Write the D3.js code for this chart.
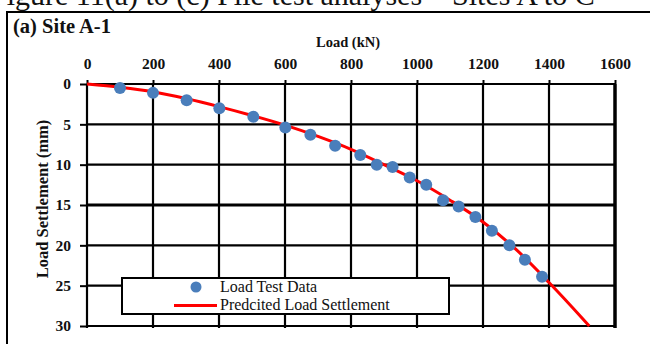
<!DOCTYPE html>
<html>
<head>
<meta charset="utf-8">
<script src="https://cdn.jsdelivr.net/npm/d3@7"></script>
<style>
  body { margin: 0; background: #fff; }
  svg text { font-family: "Liberation Serif", "Times New Roman", serif; fill: #111; }
  .axis path { display: none; }
  .axis line { stroke: #000; stroke-width: 2; }
  .axis text { font-size: 15.5px; font-weight: bold; }
</style>
</head>
<body>
<svg id="chart" width="650" height="344"></svg>
<script>
/* global d3 */

// load test readings (kN, mm)
const testLoad = [100, 200, 302, 401, 504, 601, 677, 752, 828, 878, 926, 978, 1028, 1079, 1126, 1177, 1227, 1280, 1327, 1379];
const testSettle = [0.5, 1.1, 2.0, 3.0, 4.05, 5.4, 6.3, 7.65, 8.8, 10.0, 10.3, 11.6, 12.5, 14.4, 15.2, 16.5, 18.2, 20.0, 21.8, 23.9];

// predicted curve
const predLoad = [0, 100, 200, 300, 400, 500, 600, 700, 800, 900, 1000, 1100, 1200, 1300, 1400, 1500, 1522];
const predSettle = [0, 0.4, 0.95, 1.8, 2.8, 3.9, 5.1, 6.5, 8.1, 10.0, 12.0, 14.4, 17.1, 20.5, 24.6, 29.0, 30];

const xTicks = [0, 200, 400, 600, 800, 1000, 1200, 1400, 1600];
const yTicks = [0, 5, 10, 15, 20, 25, 30];

const margin = { top: 84, left: 87 };
const width = 528;
const height = 242;

const svg = d3.select('#chart');

// caption line above the frame (cropped in the source too)
svg.append('text')
  .attr('x', -10)
  .attr('y', 5)
  .style('font-size', '30px')
  .text('Figure 11(a) to (c) Pile test analyses \u2013 Sites A to C');

// outer frame
svg.append('rect')
  .attr('x', 7).attr('y', 12)
  .attr('width', 660).attr('height', 360)
  .attr('fill', 'none')
  .attr('stroke', '#000')
  .attr('stroke-width', 2);

svg.append('text')
  .attr('x', 13).attr('y', 33)
  .style('font-size', '20.5px')
  .style('font-weight', 'bold')
  .text('(a) Site A-1');

const g = svg.append('g')
  .attr('transform', `translate(${margin.left},${margin.top})`);

const x = d3.scaleLinear().domain([0, 1600]).range([0, width]);
const y = d3.scaleLinear().domain([0, 30]).range([0, height]);

// grid
g.append('g')
  .attr('class', 'grid')
  .selectAll('line.v')
  .data(xTicks)
  .enter()
  .append('line')
    .attr('x1', d => x(d)).attr('x2', d => x(d))
    .attr('y1', 0).attr('y2', height + 2)
    .attr('stroke', '#000')
    .attr('stroke-width', d => d === 1600 ? 3.5 : 2.2);

g.append('g')
  .attr('class', 'grid')
  .selectAll('line.h')
  .data(yTicks)
  .enter()
  .append('line')
    .attr('x1', 0).attr('x2', width)
    .attr('y1', d => y(d)).attr('y2', d => y(d))
    .attr('stroke', '#000')
    .attr('stroke-width', d => (d === 15 ? 3.2 : 2.2));

g.append('g')
  .attr('class', 'axis axis--x')
  .call(d3.axisTop(x).tickValues(xTicks).tickFormat(d3.format('d')).tickSize(4).tickPadding(11));

g.append('g')
  .attr('class', 'axis axis--y')
  .call(d3.axisLeft(y).tickValues(yTicks).tickFormat(d3.format('d')).tickSize(7).tickPadding(9));

svg.append('text')
  .attr('x', 348).attr('y', 47)
  .attr('text-anchor', 'middle')
  .style('font-size', '14.5px')
  .style('font-weight', 'bold')
  .text('Load (kN)');

svg.append('text')
  .attr('transform', 'translate(48,199) rotate(-90)')
  .attr('text-anchor', 'middle')
  .style('font-size', '16.5px')
  .style('font-weight', 'bold')
  .text('Load Settlement (mm)');

// predicted line
const pred = predLoad.map((d, i) => ({ load: d, s: predSettle[i] }));
const line = d3.line()
  .x(d => x(d.load))
  .y(d => y(d.s))
  .curve(d3.curveMonotoneX);

g.append('path')
  .datum(pred)
  .attr('fill', 'none')
  .attr('stroke', '#ff0000')
  .attr('stroke-width', 3)
  .attr('d', line);

// test points
g.append('g')
  .selectAll('circle')
  .data(testLoad.map((d, i) => ({ load: d, s: testSettle[i] })))
  .enter()
  .append('circle')
    .attr('cx', d => x(d.load))
    .attr('cy', d => y(d.s))
    .attr('r', 6)
    .attr('fill', '#4a7ebb');

// legend
const legend = svg.append('g');
legend.append('rect')
  .attr('x', 122).attr('y', 278)
  .attr('width', 327).attr('height', 36)
  .attr('fill', '#fff')
  .attr('stroke', '#000')
  .attr('stroke-width', 2);
legend.append('circle')
  .attr('cx', 196).attr('cy', 287)
  .attr('r', 5.5)
  .attr('fill', '#4a7ebb');
legend.append('line')
  .attr('x1', 174).attr('x2', 217)
  .attr('y1', 305.5).attr('y2', 305.5)
  .attr('stroke', '#ff0000')
  .attr('stroke-width', 3);
legend.append('text')
  .attr('x', 220).attr('y', 292)
  .style('font-size', '16px')
  .text('Load Test Data');
legend.append('text')
  .attr('x', 220).attr('y', 310)
  .style('font-size', '16px')
  .text('Predcited Load Settlement');
</script>
</body>
</html>
